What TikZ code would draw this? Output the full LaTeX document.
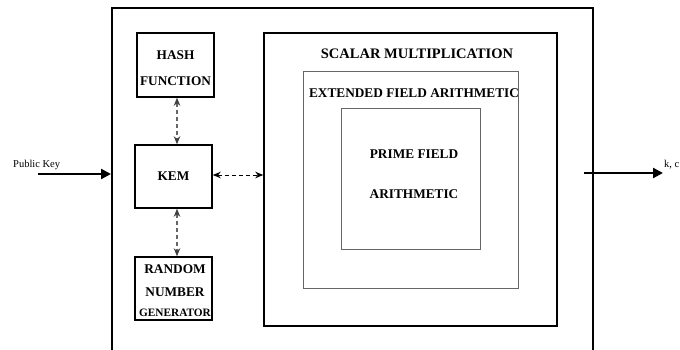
\documentclass[tikz,border=0pt]{standalone}
\usepackage{fontspec}
\setmainfont{Liberation Serif}
\usetikzlibrary{arrows.meta}
\begin{document}
\begin{tikzpicture}[x=1pt,y=-1pt,
  boxsm/.style={draw=black,line width=1.5pt,minimum width=77pt,minimum height=63pt,inner sep=0pt},
  lbl/.style={font=\bfseries\fontsize{13.3}{13.3}\selectfont,inner sep=0pt},
  lblbig/.style={font=\bfseries\fontsize{14.5}{14.5}\selectfont,inner sep=0pt},
  lblsm/.style={font=\bfseries\fontsize{11.3}{11.3}\selectfont,inner sep=0pt},
  graybox/.style={draw=black!60,line width=1pt,inner sep=0pt},
  tipd/.style={Stealth[length=8pt,width=6.5pt,fill=black!75,draw=black!75]},
  dasharr/.style={draw=black!60,line width=1.1pt,dash pattern=on 4pt off 3pt,{Stealth[length=8pt,width=6.5pt,color=black!75]}-{Stealth[length=8pt,width=6.5pt,color=black!75]}},
  dasharrk/.style={draw=black,line width=1pt,dash pattern=on 4pt off 3pt,{Stealth[length=8pt,width=6.5pt]}-{Stealth[length=8pt,width=6.5pt]}},
  bigarr/.style={line width=2.3pt,-{Triangle[length=10pt,width=10pt]}},
  small/.style={font=\fontsize{10.5}{10.5}\selectfont,inner sep=0pt}]
\useasboundingbox (0,0) rectangle (680,350);
\clip (0,0) rectangle (680,350);
\fill[white] (0,0) rectangle (680,350);
% outer box
\node[draw=black,line width=2pt,minimum width=481pt,minimum height=346pt,inner sep=0pt] (outer) at (352.5,181) {};
% left column
\node[boxsm,minimum height=64pt] (hash) at (175.5,65) {};
\node[lbl] (hasht1) at (175.5,55) {HASH};
\node[lbl] (hasht2) at (175.5,81) {FUNCTION};
\node[boxsm] (kem) at (173.5,176.5) {};
\node[lbl] (kemt) at (173.5,176) {KEM};
\node[boxsm] (rng) at (173.5,288.5) {};
\node[lbl] (rngt1) at (175,269) {RANDOM};
\node[lbl] (rngt2) at (175,292) {NUMBER};
\node[lblsm] (rngt3) at (175,313) {GENERATOR};
% nested boxes
\node[draw=black,line width=1.5pt,minimum width=293pt,minimum height=293pt,inner sep=0pt] (scalar) at (410.5,179.5) {};
\node[lblbig] (scalart) at (417,54) {SCALAR MULTIPLICATION};
\node[graybox,minimum width=215pt,minimum height=216pt] (ext) at (410.5,180) {};
\node[lbl] (extt) at (414,93) {EXTENDED FIELD ARITHMETIC};
\node[graybox,minimum width=139pt,minimum height=140pt] (prime) at (410.5,179) {};
\node[lbl] (primet1) at (414,154) {PRIME FIELD};
\node[lbl] (primet2) at (414,194) {ARITHMETIC};
% dashed connectors
\draw[dasharr] ([xshift=1.5pt]hash.south) -- ([xshift=3.5pt]kem.north);
\draw[dasharr] ([xshift=3.5pt]kem.south) -- ([xshift=3.5pt]rng.north);
\draw[dasharrk] ([yshift=1.5pt]kem.east) -- ([yshift=1.5pt]kem.east -| scalar.west);
% input / output
\coordinate (inS) at (38,174);
\draw[bigarr] (inS) -- (inS -| outer.west);
\node[small,anchor=west] (pk) at (13,165) {Public Key};
\coordinate (outS) at (584,173);
\coordinate (outE) at (663,173);
\draw[bigarr] (outS) -- (outE);
\node[small,anchor=west] (kc) at (664,165) {k, c};
\end{tikzpicture}
\end{document}
